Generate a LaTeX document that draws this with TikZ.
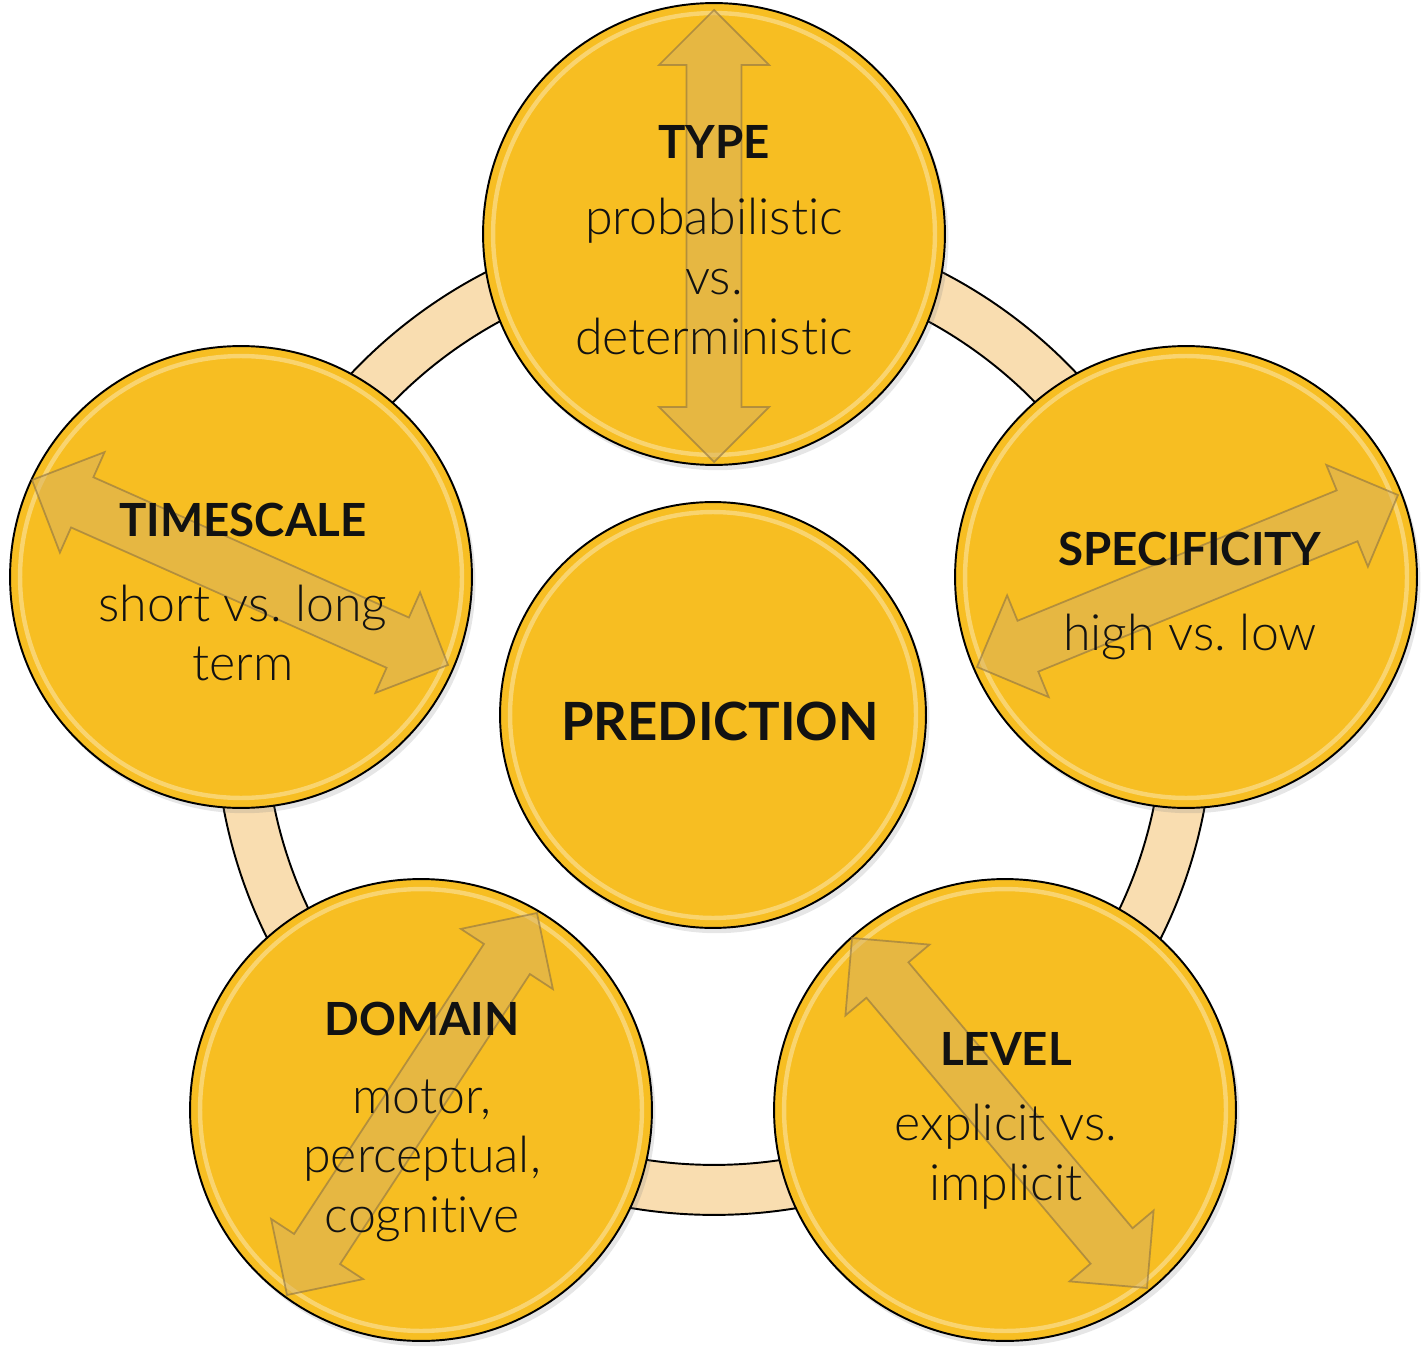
\documentclass[tikz,border=0pt]{standalone}
\usepackage{fontspec}
\setmainfont{Lato}[Ligatures=NoCommon, UprightFont=* Light, BoldFont=* Bold]
\usetikzlibrary{calc,shadows}
\definecolor{gold}{HTML}{F7BE22}
\definecolor{peach}{HTML}{F9DDB0}
\definecolor{arrowfill}{HTML}{D9B25E}
\definecolor{arrowline}{HTML}{8C7242}
\frenchspacing
\newcommand\ttl[1]{{\fontsize{26}{34}\selectfont\bfseries #1}}
\newcommand\dblarrow[2]{%
	\draw[arrowblk] (#1)
		-- ($(#1)!1.1cm!(#2)!1.1cm!90:(#2)$)
		-- ($(#1)!1.1cm!(#2)!0.55cm!90:(#2)$)
		-- ($(#2)!1.1cm!(#1)!0.55cm!-90:(#1)$)
		-- ($(#2)!1.1cm!(#1)!1.1cm!-90:(#1)$)
		-- (#2)
		-- ($(#2)!1.1cm!(#1)!1.1cm!90:(#1)$)
		-- ($(#2)!1.1cm!(#1)!0.55cm!90:(#1)$)
		-- ($(#1)!1.1cm!(#2)!0.55cm!-90:(#2)$)
		-- ($(#1)!1.1cm!(#2)!1.1cm!-90:(#2)$)
		-- cycle;}
\begin{document}
\begin{tikzpicture}[x=0.02cm, y=-0.02cm,
		bubble/.style={circle, draw=black, line width=1.1pt, fill=gold, minimum size=9.24cm, inner sep=0pt,
			drop shadow={shadow xshift=2pt, shadow yshift=-3pt, opacity=0.2}},
		gloss/.style={white, opacity=0.35, line width=2.5pt},
		arrowblk/.style={fill=arrowfill, fill opacity=0.55, draw=arrowline, draw opacity=0.6, line width=1pt, line join=miter},
		txt/.style={align=center, inner sep=0pt, text=black!93, font=\fontsize{28.5}{34}\selectfont}]
	\useasboundingbox (0,0) rectangle (1426,1358);

	\coordinate (hub) at (714,716);
	\draw[fill=peach, line width=1.1pt, even odd rule] (hub) circle[radius=9.98cm] (hub) circle[radius=8.98cm];

	\node[bubble] (type) at (714,234) {};
	\node[bubble] (timescale) at (241,577) {};
	\node[bubble] (specificity) at (1186,577) {};
	\node[bubble] (domain) at (421,1110) {};
	\node[bubble] (level) at (1005,1110) {};
	\node[bubble, minimum size=8.52cm] (prediction) at (713,715) {};

	\foreach \n in {type,timescale,specificity,domain,level}
		\draw[gloss] (\n.center) circle[radius=4.42cm];
	\draw[gloss] (prediction.center) circle[radius=4.06cm];

	\coordinate (typeA) at (714,10);
	\coordinate (typeB) at (714,462);
	\coordinate (timeA) at (32,480);
	\coordinate (timeB) at (448,665);
	\coordinate (specA) at (977,667);
	\coordinate (specB) at (1398,495);
	\coordinate (domA) at (287,1295);
	\coordinate (domB) at (537,913);
	\coordinate (levA) at (852,938);
	\coordinate (levB) at (1147,1288);
	\dblarrow{typeA}{typeB}
	\dblarrow{timeA}{timeB}
	\dblarrow{specA}{specB}
	\dblarrow{domA}{domB}
	\dblarrow{levA}{levB}

	\node[txt, anchor=north] (typetxt) at (714,125) {\ttl{TYPE}\\[9.5pt] probabilistic\\ vs.\\ deterministic};
	\node[txt, anchor=north] (timetxt) at (243,503) {\ttl{TIMESCALE}\\[14pt] short vs. long\\ term};
	\node[txt, anchor=north] (spectxt) at (1190,532) {\ttl{SPECIFICITY}\\[14pt] high vs. low};
	\node[txt, anchor=north] (domtxt) at (422,1002) {\ttl{DOMAIN}\\[10pt] motor,\\ perceptual,\\ cognitive};
	\node[txt, anchor=north] (levtxt) at (1006,1032) {\ttl{LEVEL}\\[9pt] explicit vs.\\ implicit};
	\node[txt, font=\fontsize{30}{36}\selectfont\bfseries] (predtxt) at (720,721) {PREDICTION};
\end{tikzpicture}
\end{document}
